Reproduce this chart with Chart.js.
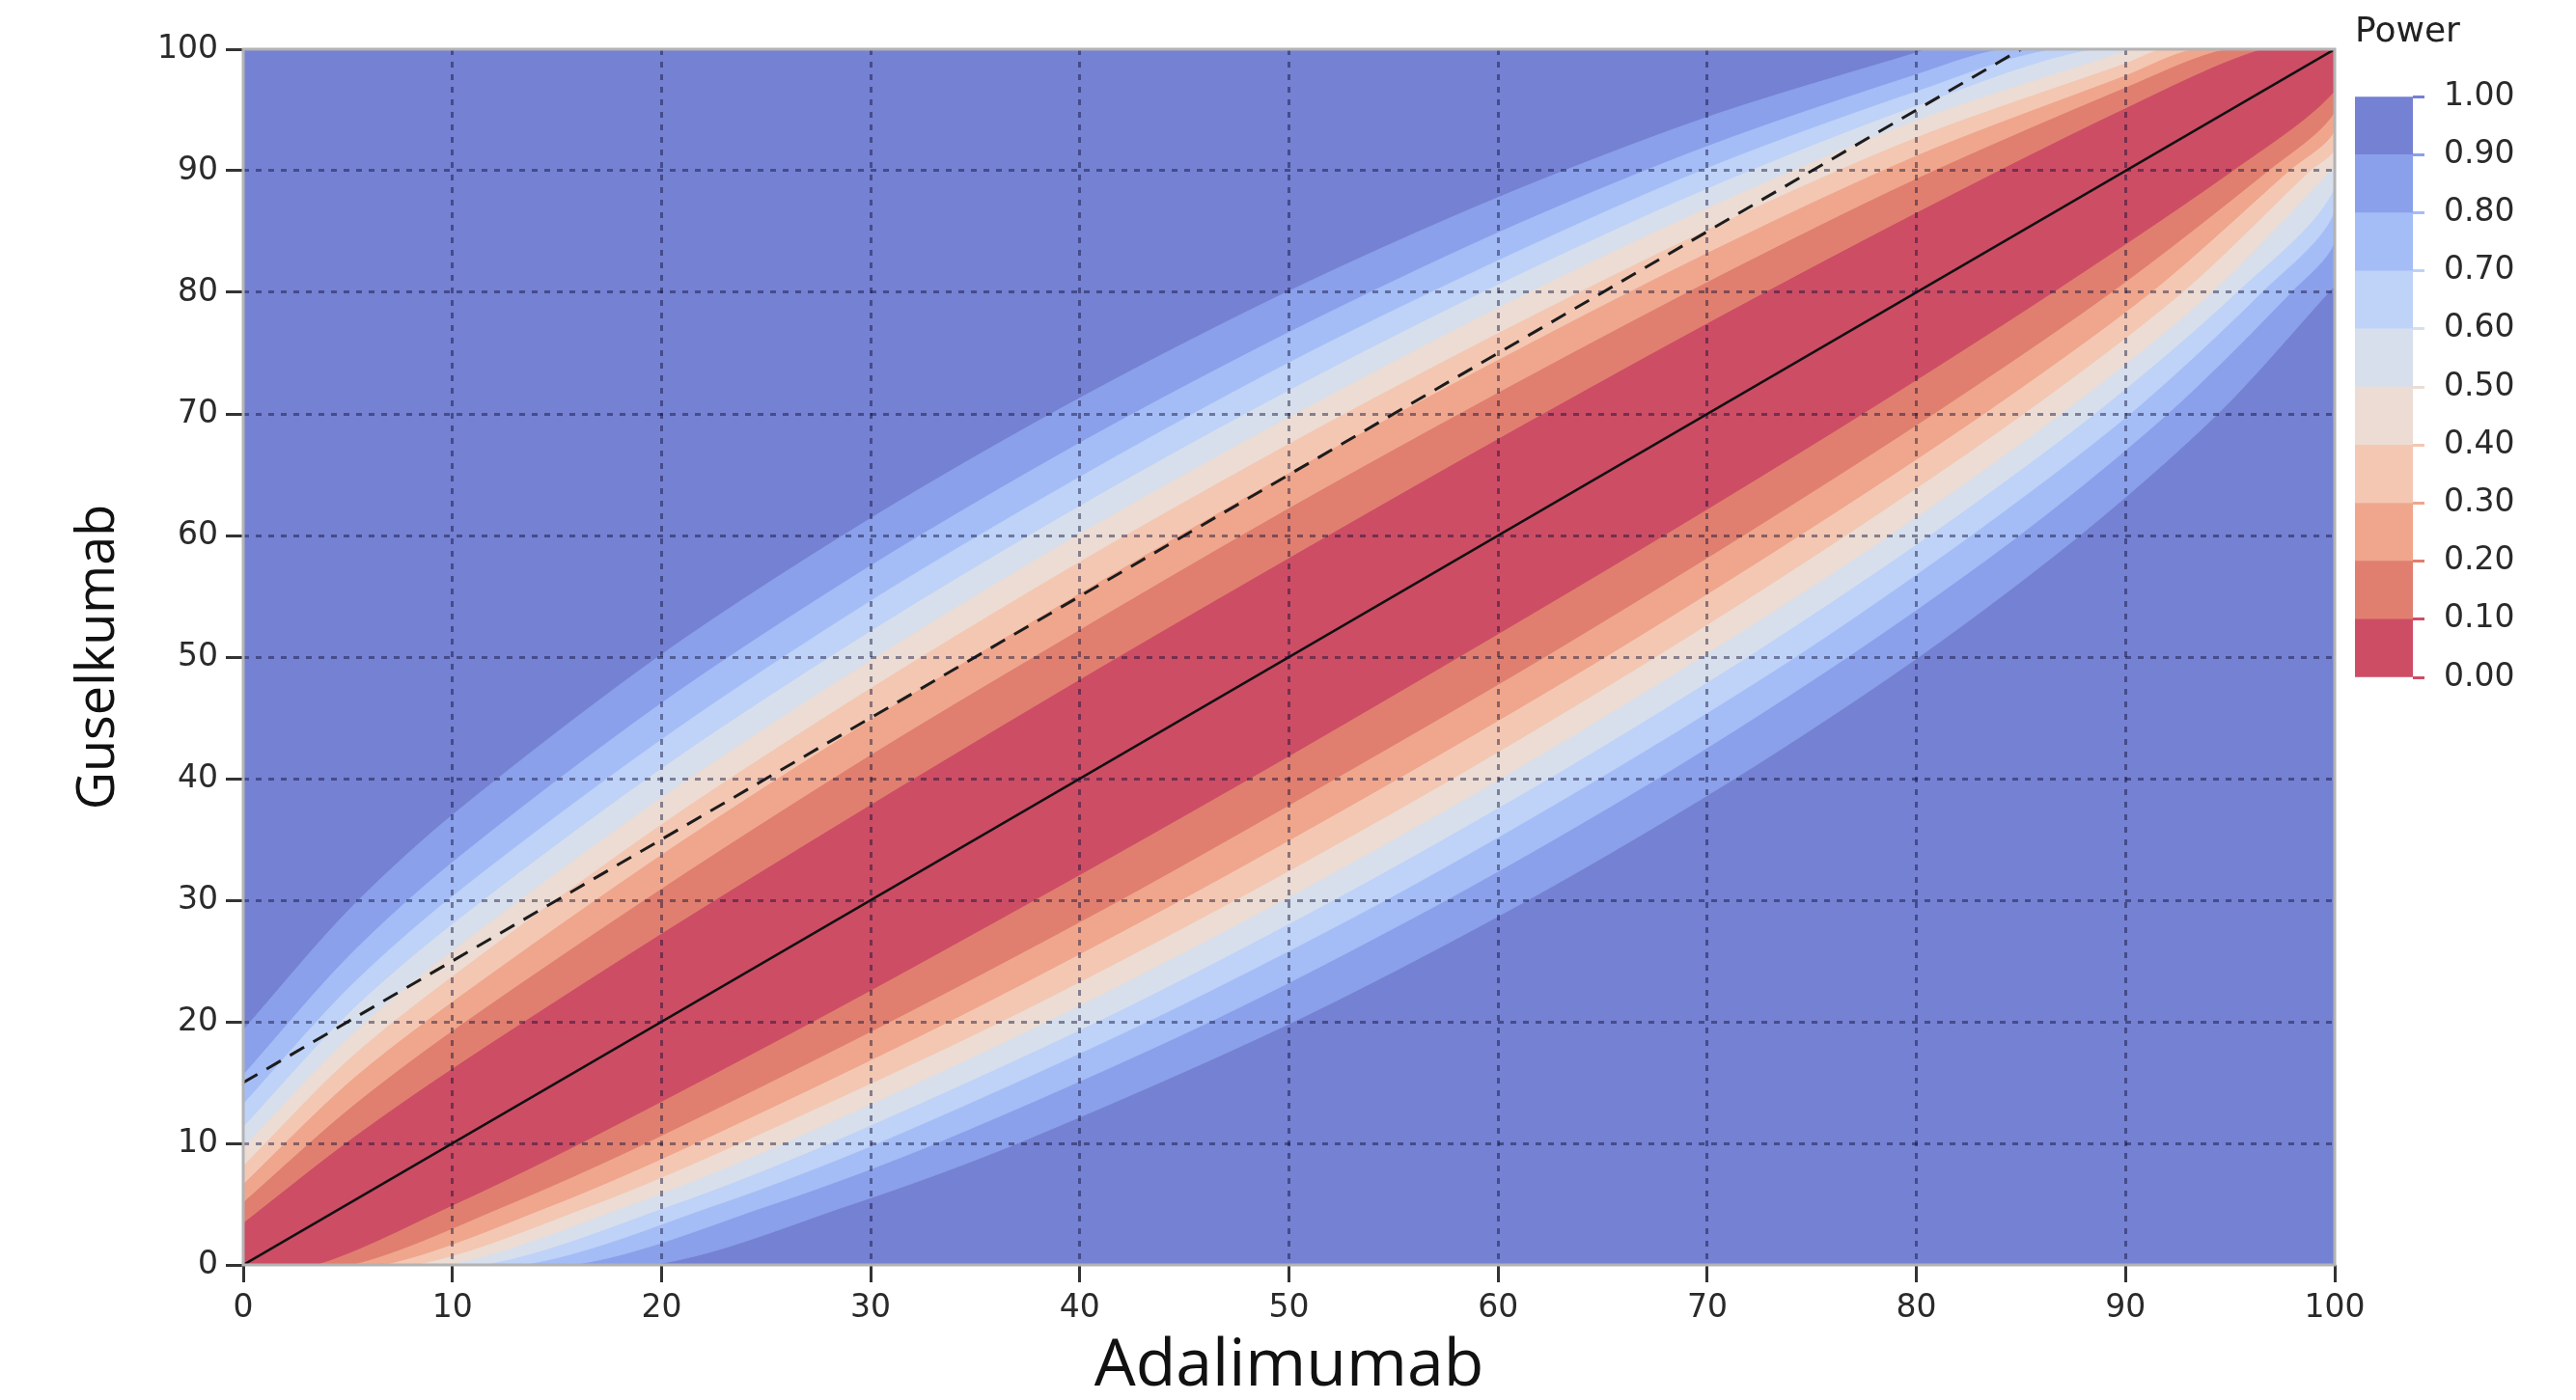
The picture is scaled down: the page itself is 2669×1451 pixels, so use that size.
<!DOCTYPE html>
<html>
<head>
<meta charset="utf-8">
<title>Power map</title>
<script src="https://cdn.jsdelivr.net/npm/chart.js@4.4.1/dist/chart.umd.min.js"></script>
<style>
  html, body { margin: 0; padding: 0; background: #fff; }
  #wrap { position: relative; width: 2669px; height: 1451px; }
  #powerMap { position: absolute; left: 0; top: 0; }
  #powerBar { position: absolute; left: 2440px; top: 0; }
</style>
</head>
<body>
<div id="wrap">
  <canvas id="powerMap" width="2669" height="1451"></canvas>
  <canvas id="powerBar" width="229" height="760"></canvas>
</div>
<script>
// contour levels of the power surface and the colour of each band (low -> high)
const powerLevels = [0, 0.1, 0.2, 0.3, 0.4, 0.5, 0.6, 0.7, 0.8, 0.9, 1.0];
const powerTickLabels = ['0.00', '0.10', '0.20', '0.30', '0.40', '0.50', '0.60', '0.70', '0.80', '0.90', '1.00'];
const bandColors = ['#cd4d65', '#e07f6f', '#efa68c', '#f4c7b3', '#ecdcd3',
                    '#d7dfed', '#bfd2f7', '#a4bdf6', '#8aa0ea', '#7581d3'];

const axisTicks = [0, 10, 20, 30, 40, 50, 60, 70, 80, 90, 100];

// Adalimumab values where the contours above the diagonal were read
const sampleX = [0, 5, 10, 20, 30, 40, 50, 60, 70, 80, 90];
// Guselkumab value of each contour at sampleX (null: contour has left through the top)
const edge10 = [3.4, 10.1, 16.1, 27.2, 37.8, 48.1, 58.1, 67.9, 77.4, 86.5, 95.1];
const edge20 = [5.1, 12.7, 19.2, 30.9, 41.9, 52.2, 62.2, 71.7, 80.8, 89.3, 96.8];
const edge30 = [6.6, 14.9, 21.6, 33.7, 44.8, 55.2, 65.1, 74.4, 83.2, 91.2, 97.8];
const edge40 = [8.1, 16.8, 23.7, 36.2, 47.4, 57.8, 67.5, 76.6, 85.1, 92.7, 98.8];
const edge50 = [9.6, 18.6, 25.8, 38.4, 49.7, 60.1, 69.7, 78.7, 86.9, 94.1, 99.8];
const edge60 = [11.3, 20.6, 28.0, 40.8, 52.1, 62.4, 71.9, 80.6, 88.5, 95.3, null];
const edge70 = [13.2, 22.7, 30.3, 43.2, 54.6, 64.8, 74.2, 82.6, 90.2, 96.5, null];
const edge80 = [15.6, 25.3, 33.1, 46.2, 57.5, 67.6, 76.7, 84.9, 92.0, 97.9, null];
const edge90 = [19.3, 29.1, 37.0, 50.2, 61.4, 71.3, 80.1, 87.8, 94.4, 99.7, null];
// Adalimumab value where each contour meets the top edge
const topExitX = [96.6, 94.9, 93.4, 91.9, 90.4, 88.7, 86.8, 84.4, 80.7];

// reference lines: equal rates and the 15-point margin
const equalityLine = [[0, 0], [100, 100]];
const marginLine = [[0, 15], [85, 100]];

const contourEdges = [edge10, edge20, edge30, edge40, edge50, edge60, edge70, edge80, edge90];

// closed outline of the area where power is below one level
function regionBelow(edge, exitX) {
  const upper = [];
  sampleX.forEach((x, i) => {
    if (edge[i] !== null) upper.push({ x: x, y: edge[i] });
  });
  upper.push({ x: exitX, y: 100 });
  // power is symmetric in the two rates, so the lower edge mirrors the upper one
  const lower = upper.map(p => ({ x: p.y, y: p.x })).reverse();
  return upper.concat([{ x: 100, y: 100 }], lower, [{ x: 0, y: 0 }]);
}

const regionSets = contourEdges.map((edge, i) => ({
  data: regionBelow(edge, topExitX[i]),
  fill: 'shape',
  backgroundColor: bandColors[i],
  borderColor: bandColors[i],
  borderWidth: 1,
  pointRadius: 0,
  tension: 0.3
}));

const lineSets = [
  {
    data: equalityLine.map(([x, y]) => ({ x, y })),
    borderColor: '#111',
    borderWidth: 2.5,
    pointRadius: 0,
    fill: false
  },
  {
    data: marginLine.map(([x, y]) => ({ x, y })),
    borderColor: '#1c1c1c',
    borderWidth: 3,
    borderDash: [17, 11],
    pointRadius: 0,
    fill: false
  }
];

// everything at or above 0.90 is the plot background
const plotBackground = {
  id: 'plotBackground',
  beforeDatasetsDraw(chart) {
    const { ctx, chartArea: a } = chart;
    ctx.save();
    ctx.fillStyle = bandColors[9];
    ctx.fillRect(a.left, a.top, a.right - a.left, a.bottom - a.top);
    ctx.restore();
  }
};

const plotFrame = {
  id: 'plotFrame',
  afterDraw(chart) {
    const { ctx, chartArea: a } = chart;
    ctx.save();
    ctx.strokeStyle = '#b3b3b3';
    ctx.lineWidth = 3;
    ctx.strokeRect(a.left, a.top, a.right - a.left, a.bottom - a.top);
    ctx.restore();
  }
};

const tickFont = { family: 'DejaVu Sans', size: 33 };
const gridColor = ctx => (ctx.tick && (ctx.tick.value === 0 || ctx.tick.value === 100))
  ? 'rgba(0,0,0,0)' : 'rgba(10,10,50,0.45)';

function axis(title, titleFont, titlePadding, fit) {
  return {
    type: 'linear',
    min: 0,
    max: 100,
    afterBuildTicks: s => { s.ticks = axisTicks.map(v => ({ value: v })); },
    afterFit: fit,
    ticks: { font: tickFont, color: '#2a2a2a', padding: 8, maxRotation: 0, autoSkip: false },
    grid: { z: 1, color: gridColor, lineWidth: 3, tickLength: 18, tickWidth: 3, tickColor: '#333' },
    border: { display: false, dash: [6, 7] },
    title: { display: true, text: title, color: '#111', font: titleFont, padding: titlePadding }
  };
}

new Chart(document.getElementById('powerMap'), {
  type: 'line',
  data: { datasets: lineSets.concat(regionSets) },
  options: {
    responsive: false,
    animation: false,
    layout: { padding: { left: 0, top: 51, right: 250, bottom: 0 } },
    plugins: { legend: { display: false }, tooltip: { enabled: false } },
    scales: {
      x: axis('Adalimumab', { family: 'Open Sans', size: 68, lineHeight: 1 }, 0,
        s => { s.height = 140; }),
      y: axis('Guselkumab', { family: 'Open Sans', size: 54, lineHeight: 1.2 }, { top: 70 },
        s => { s.width = 252; })
    }
  },
  plugins: [plotBackground, plotFrame]
});

// colour key
new Chart(document.getElementById('powerBar'), {
  type: 'bar',
  data: {
    labels: ['Power'],
    datasets: bandColors.map((c, i) => ({
      data: [[powerLevels[i], powerLevels[i + 1]]],
      backgroundColor: c,
      borderWidth: 0,
      barPercentage: 1,
      categoryPercentage: 1,
      grouped: false
    }))
  },
  options: {
    responsive: false,
    animation: false,
    layout: { padding: { left: 0, right: 0, bottom: 58 } },
    plugins: {
      legend: { display: false },
      tooltip: { enabled: false },
      title: {
        display: true, text: 'Power', align: 'start', color: '#222',
        font: { family: 'DejaVu Sans', size: 36, weight: 'normal' },
        padding: { top: 12, bottom: 45 }
      }
    },
    scales: {
      x: { display: false },
      y: {
        position: 'right',
        min: 0,
        max: 1,
        afterFit: s => { s.width = 169; },
        afterBuildTicks: s => { s.ticks = powerLevels.map(v => ({ value: v })); },
        ticks: { callback: (v, i) => powerTickLabels[i], font: tickFont, color: '#2a2a2a', padding: 20 },
        grid: {
          drawOnChartArea: false, tickLength: 12, tickWidth: 3,
          tickColor: ctx => bandColors[Math.min(Math.max(ctx.index - 1, 0), 9)]
        },
        border: { display: false }
      }
    }
  }
});
</script>
</body>
</html>
